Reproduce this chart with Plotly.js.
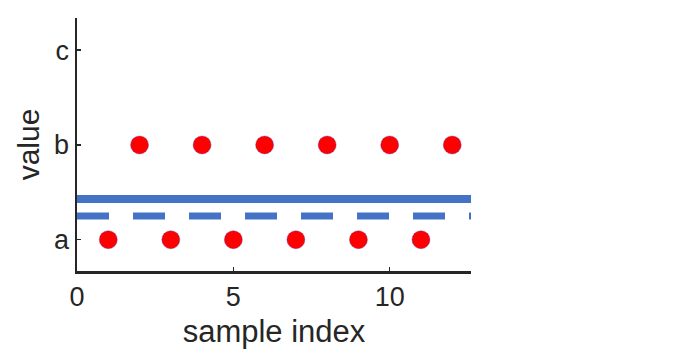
<!DOCTYPE html>
<html>
<head>
<meta charset="utf-8">
<script src="https://cdn.plot.ly/plotly-3.0.1.min.js"></script>
<style>
  html, body { margin: 0; padding: 0; background: #fff; }
  #chart { width: 681px; height: 356px; }
</style>
</head>
<body>
<div id="chart"></div>
<script>
// categories on the y axis
const categories = ['a', 'b', 'c'];

// sample points
const sampleIdx = [1, 2, 3, 4, 5, 6, 7, 8, 9, 10, 11, 12];
const sampleVal = ['a', 'b', 'a', 'b', 'a', 'b', 'a', 'b', 'a', 'b', 'a', 'b'];

// reference levels (category units, a = 0)
const lineX = [0, 12.6];
const solidLevel = 0.43;
const dashedLevel = 0.25;

const catPos = sampleVal.map(v => categories.indexOf(v));

const traces = [
    {
        type: 'scatter',
        mode: 'lines',
        x: lineX,
        y: [solidLevel, solidLevel],
        line: { color: '#4472C4', width: 8 },
        showlegend: false,
        hoverinfo: 'skip'
    },
    {
        type: 'scatter',
        mode: 'lines',
        x: lineX,
        y: [dashedLevel, dashedLevel],
        line: { color: '#4472C4', width: 7, dash: '32px,24px' },
        showlegend: false,
        hoverinfo: 'skip'
    },
    {
        type: 'scatter',
        mode: 'markers',
        x: sampleIdx,
        y: catPos,
        marker: {
            color: '#ff0000',
            size: 18,
            line: { color: 'rgba(90,40,160,0.6)', width: 0.6 }
        },
        cliponaxis: false,
        showlegend: false
    }
];

const axisColor = '#262626';

const layout = {
    width: 681,
    height: 356,
    margin: { l: 77, r: 210, t: 18, b: 85 },
    paper_bgcolor: '#ffffff',
    plot_bgcolor: '#ffffff',
    font: { family: 'Liberation Sans, Arial, sans-serif', color: '#262626', size: 27 },
    xaxis: {
        range: [0, 12.6],
        tickvals: [0, 5, 10],
        ticktext: ['0', '5', '10'],
        ticks: 'inside',
        ticklen: 4,
        tickwidth: 1.5,
        tickcolor: axisColor,
        showline: true,
        linecolor: axisColor,
        linewidth: 2.5,
        showgrid: false,
        zeroline: false,
        tickfont: { size: 27 },
        title: { text: 'sample index', font: { size: 31 }, standoff: 10 }
    },
    yaxis: {
        range: [-0.33, 2.34],
        tickvals: categories.map((c, i) => i),
        ticktext: categories,
        ticks: 'inside',
        ticklen: 4,
        tickwidth: 1.5,
        tickcolor: axisColor,
        showline: true,
        linecolor: axisColor,
        linewidth: 2.5,
        showgrid: false,
        zeroline: false,
        tickfont: { size: 27 },
        title: { text: 'value', font: { size: 30 }, standoff: 6 }
    }
};

Plotly.newPlot('chart', traces, layout, { displayModeBar: false, staticPlot: true });
</script>
</body>
</html>
